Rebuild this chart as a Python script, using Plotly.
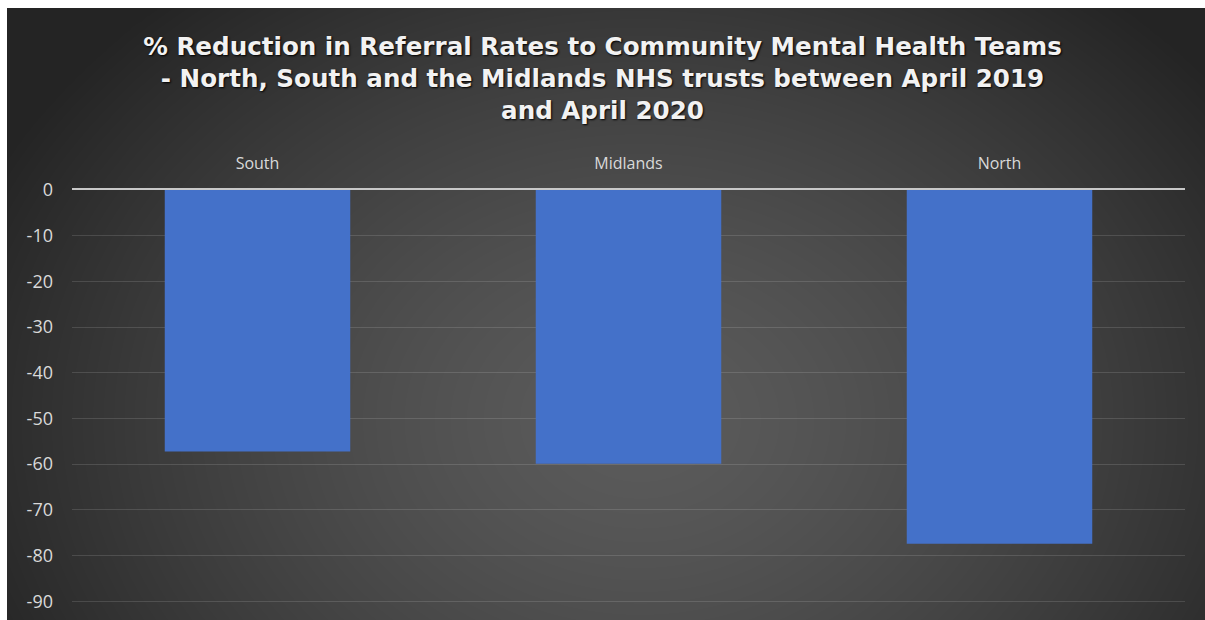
import numpy as np
import plotly.graph_objects as go

# Referral-rate change by region (% change, April 2019 -> April 2020)
regions = ["South", "Midlands", "North"]
pct_change = [-57.2, -59.9, -77.4]
y_ticks = [0, -10, -20, -30, -40, -50, -60, -70, -80, -90]

W, H = 1205, 620
PLOT_L, PLOT_R, PLOT_T = 72, 1185, 190
EDGE_L, EDGE_T = 7, 8  # thin white frame on the left and top

# Radial dark-grey backdrop built on a pixel grid (slightly oversized, then clipped)
gx = np.linspace(0, W + 40, 126)
gy = np.linspace(0, H + 40, 67)
XX, YY = np.meshgrid(gx, gy)
cx, cy, rx, ry = 640.0, 420.0, 720.0, 560.0
t = np.clip(np.sqrt(((XX - cx) / rx) ** 2 + ((YY - cy) / ry) ** 2), 0, 1)
shade = 1 - t ** 1.4

fig = go.Figure()

fig.add_trace(go.Heatmap(
    x=gx, y=gy, z=shade, zmin=0, zmax=1, zsmooth="best",
    colorscale=[[0, "#242424"], [1, "#5b5b5b"]],
    showscale=False, hoverinfo="skip", xaxis="x", yaxis="y",
))

fig.add_trace(go.Bar(
    x=regions, y=pct_change, width=0.5,
    marker=dict(color="#4471c9", line=dict(width=0)),
    xaxis="x2", yaxis="y2", showlegend=False,
))

fig.update_layout(
    width=W, height=H,
    margin=dict(l=0, r=0, t=0, b=0, autoexpand=False),
    paper_bgcolor="#2e2e2e",
    plot_bgcolor="rgba(0,0,0,0)",
    showlegend=False,
    title=dict(
        text=("% Reduction in Referral Rates to Community Mental Health Teams<br>"
              "- North, South and the Midlands NHS trusts between April 2019<br>"
              "and April 2020"),
        x=0.5, xanchor="center", xref="paper",
        y=1 - 55 / H, yanchor="top", yref="paper",
        font=dict(family="DejaVu Sans", size=24.6, color="#f2f2f2",
                  weight="bold", shadow="1px 1px 2px #000000"),
    ),
    xaxis=dict(domain=[EDGE_L / W, 1], range=[EDGE_L, W], visible=False,
               fixedrange=True, automargin=False),
    yaxis=dict(domain=[0, 1 - EDGE_T / H], range=[H, EDGE_T], visible=False,
               fixedrange=True, automargin=False),
    xaxis2=dict(
        domain=[PLOT_L / W, PLOT_R / W], anchor="y2", side="top",
        showgrid=False, showline=True, linecolor="#c8c8c8", linewidth=2,
        ticks="", tickfont=dict(family="Open Sans", size=16, color="#d9d9d9"),
        ticklabelstandoff=13, automargin=False,
    ),
    yaxis2=dict(
        domain=[0, 1 - PLOT_T / H], anchor="x2", range=[-94.1, 0],
        tickvals=y_ticks, ticktext=[str(v) for v in y_ticks],
        showgrid=True, gridcolor="rgba(255,255,255,0.13)", gridwidth=1,
        zeroline=False, showline=False, ticks="",
        tickfont=dict(family="Open Sans", size=18, color="#d9d9d9"),
        ticklabelstandoff=18, automargin=False,
    ),
    shapes=[
        dict(type="rect", xref="paper", yref="paper", layer="above",
             x0=0, x1=EDGE_L / W, y0=0, y1=1,
             fillcolor="#ffffff", line=dict(width=0)),
        dict(type="rect", xref="paper", yref="paper", layer="above",
             x0=0, x1=1, y0=1 - EDGE_T / H, y1=1,
             fillcolor="#ffffff", line=dict(width=0)),
    ],
)

fig.write_html("out.html")
